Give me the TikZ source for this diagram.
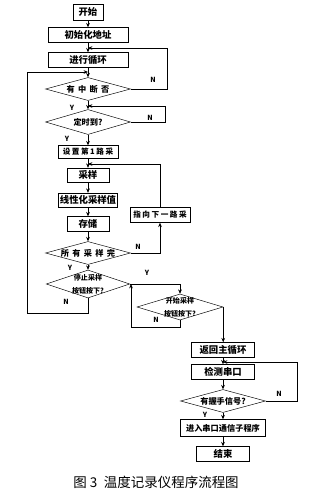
\documentclass[tikz,border=0pt]{standalone}
\usepackage{fontspec}
\setmainfont{Noto Sans CJK SC}
\newfontfamily\spread{Noto Sans CJK SC}[LetterSpace=40]
\newfontfamily\spreadb{Noto Sans CJK SC}[LetterSpace=20]
\usepackage{tikz}
\usetikzlibrary{arrows.meta,shapes.geometric}

\begin{document}
\begin{tikzpicture}[x=0.03cm,y=-0.03cm,
  every node/.style={font=\fontsize{8}{9}\selectfont},
  box/.style={draw,minimum height=0.45cm,inner sep=1pt,font=\fontsize{8}{9}\selectfont\bfseries},
  dia/.style={draw,diamond,inner sep=0pt,minimum width=2.55cm,minimum height=0.69cm},
  dtxt/.style={font=\fontsize{7}{10}\selectfont\bfseries,align=center,inner sep=0pt},
  yn/.style={font=\fontsize{6}{6}\selectfont\bfseries,inner sep=0pt},
  arr/.style={-{Stealth[length=1.3mm,width=1.1mm]},line width=0.5pt}]
 \useasboundingbox (0,0) rectangle (330,492);
 \node[box,minimum width=0.9cm,minimum height=0.48cm] (start) at (88,12) {开始};
 \node[box,minimum width=2.4cm] (init) at (88,35) {初始化地址};
 \node[box,minimum width=2.4cm] (loop) at (88,60) {进行循环};
 \node[dia,label={[dtxt]center:{\spread 有中断否}}] (d1) at (88,89) {};
 \node[dia,minimum height=0.75cm,label={[dtxt]center:{定时到?}}] (d2) at (88,122) {};
 \node[box,minimum width=1.8cm,minimum height=0.39cm] (set1) at (88,152) {\spreadb\fontsize{6.5}{7}\selectfont\bfseries 设置第1路采};
 \node[box,minimum width=1.26cm,minimum height=0.42cm] (sample) at (88,175) {采样};
 \node[box,minimum width=1.74cm,minimum height=0.42cm] (linear) at (88,200) {线性化采样值};
 \node[box,minimum width=1.26cm] (store) at (88,224) {存储};
 \node[box,minimum width=1.8cm] (next) at (160,215) {\spreadb\fontsize{6.5}{7}\selectfont\bfseries 指向下一路采};
 \node[dia,label={[dtxt]center:{\spread 所有采样完}}] (d3) at (88,253) {};
 \node[dia,minimum width=2.5cm,minimum height=0.84cm,label={[dtxt,font=\fontsize{6}{11}\selectfont\bfseries]center:{停止采样\\按钮按下?}}] (d4) at (88,284) {};
 \node[dia,minimum width=2.58cm,minimum height=0.78cm,label={[dtxt,font=\fontsize{6}{11}\selectfont\bfseries]center:{开始采样\\按钮按下?}}] (d5) at (180,307) {};
 \node[box,minimum width=1.89cm] (ret) at (223,350) {返回主循环};
 \node[box,minimum width=1.89cm] (detect) at (223,372) {检测串口};
 \node[dia,label={[dtxt]center:{有握手信号?}}] (d6) at (223,401) {};
 \node[box,minimum width=2.55cm,minimum height=0.51cm,font=\fontsize{7}{8}\selectfont\bfseries] (serial) at (223,428) {进入串口通信子程序};
 \node[box,minimum width=1.6cm] (fin) at (223,454) {结束};
 \node[font=\fontsize{11.5}{12}\selectfont] (cap) at (156,482) {图 3\enspace 温度记录仪程序流程图};
 \coordinate (j1) at (88,48);
 \coordinate (j2) at (88,106);
 \coordinate (j3) at (88,72);
 \coordinate (lft) at (27,72);
 \coordinate (j4) at (88,164);
 \coordinate (j5) at (131,284);
 \coordinate (j6) at (223,362);
 \draw[arr] (start) -- (init);
 \draw[arr] (init) -- (loop);
 \draw[arr] (loop) -- (d1);
 \draw[arr] (d1) -- (d2);
 \draw[arr] (d2) -- (set1);
 \draw[arr] (set1) -- (sample);
 \draw[arr] (sample) -- (linear);
 \draw[arr] (linear) -- (store);
 \draw[arr] (store) -- (d3);
 \draw[arr] (d3) -- (d4);
 \draw[arr] (d1.east) -- ++(37,0) |- (j1);
 \draw[arr] (d2.east) -- ++(35,0) |- (j2);
 \draw[arr] (d3.east) -| (next.south);
 \draw[arr] (next.north) |- (j4);
 \draw[arr] (d4.south) -- ++(0,15) -| (lft) -- (j3);
 \draw[arr] (d4.east) -| (d5.north);
 \draw[arr] (d5.south) -- ++(0,7) -| (j5);
 \draw[arr] (d5.east) -- (d5.east |- ret.north);
 \draw[arr] (ret) -- (detect);
 \draw[arr] (detect) -- (d6);
 \draw[arr] (d6) -- (serial);
 \draw[arr] (serial) -- (fin);
 \draw[arr] (d6.east) -- ++(32,0) |- (j6);
 \node[yn] (n1) at (153,80) {N};
 \node[yn] (y1) at (72,108) {Y};
 \node[yn] (n2) at (150,118) {N};
 \node[yn] (y2) at (67,139) {Y};
 \node[yn] (n3) at (138,247) {N};
 \node[yn] (y3) at (70,268) {Y};
 \node[yn] (y4) at (147,273) {Y};
 \node[yn] (n4) at (66,302) {N};
 \node[yn] (n5) at (156,320) {N};
 \node[yn] (n6) at (279,394) {N};
 \node[yn] (y6) at (205,415) {Y};
\end{tikzpicture}
\end{document}
